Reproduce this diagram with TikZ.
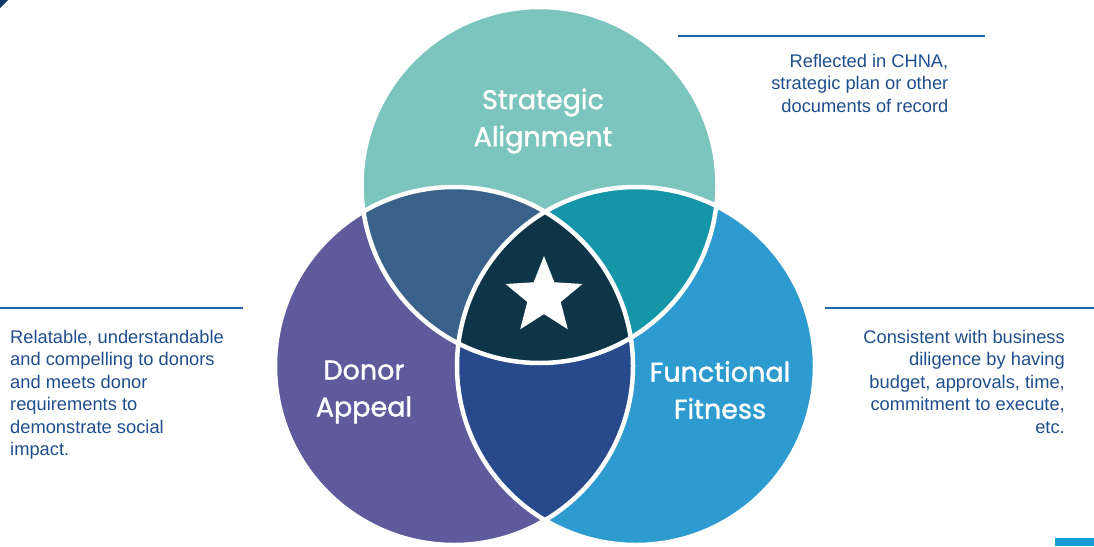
\documentclass[tikz,border=0pt]{standalone}
\usepackage{fontspec}
\setmainfont{Liberation Sans}
\newfontfamily\circfont[FakeBold=1.3]{Poppins}
\usetikzlibrary{shapes.geometric}
\definecolor{topc}{HTML}{7CC5BF}
\definecolor{leftc}{HTML}{5F5A9C}
\definecolor{rightc}{HTML}{2E9BD0}
\definecolor{tlc}{HTML}{3A6189}
\definecolor{trc}{HTML}{1596A8}
\definecolor{lrc}{HTML}{284A8C}
\definecolor{midc}{HTML}{0D3447}
\definecolor{txtc}{HTML}{1F4E8C}
\definecolor{rulec}{HTML}{2366B0}
\definecolor{navyc}{HTML}{0E3A66}
\definecolor{barc}{HTML}{1A9AD6}
\tikzset{
  ring/.style={draw=white, line width=4.5pt},
  circlabel/.style={text=white, font=\circfont\fontsize{27}{37}\selectfont, align=center, inner sep=0pt},
  note/.style={text=txtc, font=\fontsize{18.3}{22.4}\selectfont, inner sep=0pt},
  rule/.style={draw=rulec, line width=2pt}
}
\begin{document}
\begin{tikzpicture}[x=1pt,y=-1pt]
\useasboundingbox (0,0) rectangle (1094,546);
\coordinate (T) at (539.5,185);
\coordinate (L) at (454,366);
\coordinate (R) at (636,366);
% base circles
\fill[topc] (T) circle[radius=178pt];
\fill[leftc] (L) circle[radius=179pt];
\fill[rightc] (R) circle[radius=179pt];
% pairwise intersections
\begin{scope}
  \clip (T) circle[radius=178pt];
  \fill[tlc] (L) circle[radius=179pt];
  \fill[trc] (R) circle[radius=179pt];
\end{scope}
\begin{scope}
  \clip (L) circle[radius=179pt];
  \fill[lrc] (R) circle[radius=179pt];
\end{scope}
\begin{scope}
  \clip (T) circle[radius=178pt];
  \clip (L) circle[radius=179pt];
  \fill[midc] (R) circle[radius=179pt];
\end{scope}
% white outlines
\draw[ring] (T) circle[radius=178pt];
\draw[ring] (L) circle[radius=179pt];
\draw[ring] (R) circle[radius=179pt];
% star
\node[star, star points=5, star point ratio=2.3, fill=white, minimum size=81pt, inner sep=0pt] (star) at (544,296.5) {};
% circle labels
\node[circlabel] (sa) at (543,121) {Strategic\\Alignment};
\node[circlabel] (da) at (364,392) {Donor\\Appeal};
\node[circlabel] (ff) at (720,390) {Functional\\Fitness};
% rules
\coordinate (r1a) at (678,36); \coordinate (r1b) at (985,36);
\coordinate (r2a) at (0,308); \coordinate (r2b) at (243,308);
\coordinate (r3a) at (825,308); \coordinate (r3b) at (1094,308);
\draw[rule] (r1a) -- (r1b);
\draw[rule] (r2a) -- (r2b);
\draw[rule] (r3a) -- (r3b);
% notes
\node[note, align=right, anchor=north east] (n1) at (948.5,54) {Reflected in CHNA,\\strategic plan or other\\documents of record};
\node[note, align=left, anchor=north west] (n2) at (10,330) {Relatable, understandable\\and compelling to donors\\and meets donor\\requirements to\\demonstrate social\\impact.};
\node[note, align=right, anchor=north east] (n3) at (1065,330) {Consistent with business\\diligence by having\\budget, approvals, time,\\commitment to execute,\\etc.};
% corner decorations
\fill[navyc] (0,0) -- (8,0) -- (0,8) -- cycle;
\fill[barc] (1055,538) rectangle (1094,546);
\end{tikzpicture}
\end{document}
